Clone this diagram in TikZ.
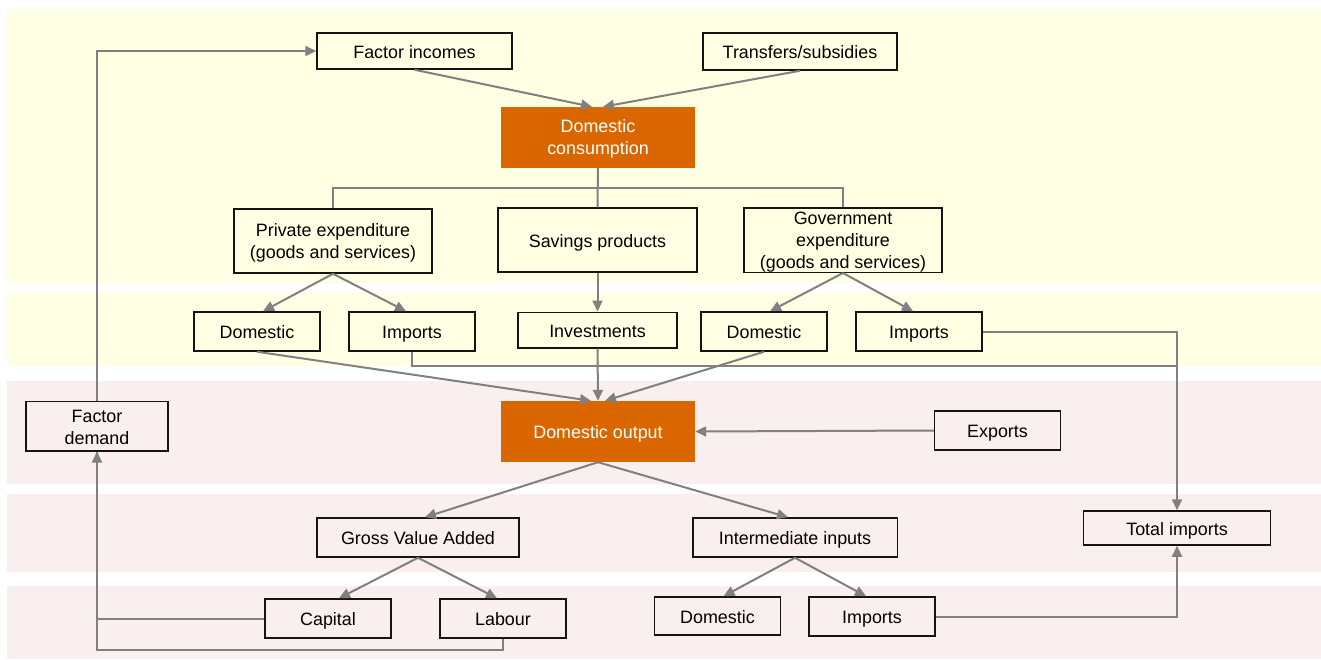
\documentclass[tikz,border=0pt]{standalone}
\usepackage{fontspec}
\setmainfont{Liberation Sans}
\usetikzlibrary{arrows.meta,calc}
\definecolor{bandY}{RGB}{255,255,228}
\definecolor{bandP}{RGB}{249,239,239}
\definecolor{orangeBox}{RGB}{218,102,0}
\definecolor{connGray}{RGB}{128,128,128}
\definecolor{boxLine}{RGB}{20,20,20}
\newcommand{\tlstrut}{\rule{0pt}{16pt}}
\newcommand{\blstrut}{\rule[-1.5pt]{0pt}{1.5pt}}
\begin{document}
\begin{tikzpicture}[x=1pt,y=-1pt,
  every node/.style={font=\fontsize{17.9}{22}\selectfont, inner sep=0pt, align=center},
  box/.style={draw=boxLine, line width=1.5pt, fill=none, text=black},
  hot/.style={fill=orangeBox, draw=none, text=white},
  one/.style={text height=16pt, text depth=1.5pt},
  conn/.style={draw=connGray, line width=2pt, -{Triangle[length=11pt,width=10pt]}},
  plain/.style={draw=connGray, line width=2pt}
]
\useasboundingbox (0,0) rectangle (1321,659);
% bands
\fill[bandY] (7,9) rectangle (1321,283);
\fill[bandY] (7,293) rectangle (1321,366);
\fill[bandP] (7,381) rectangle (1321,484);
\fill[bandP] (7,494) rectangle (1321,572);
\fill[bandP] (7,586) rectangle (1321,659);

% nodes
\node[box, one, minimum width=195, minimum height=36] (fi) at (414.5,51) {Factor incomes};
\node[box, one, minimum width=194, minimum height=37] (ts) at (800,51.5) {Transfers/subsidies};
\node[hot, minimum width=194, minimum height=61] (dc) at (598,137.5) {\tlstrut Domestic\\consumption\blstrut};
\node[box, minimum width=198, minimum height=64] (pe) at (333,241) {\tlstrut Private expenditure\\(goods and services)\blstrut};
\node[box, one, minimum width=199, minimum height=64] (sp) at (597.5,240) {Savings products};
\node[box, minimum width=198, minimum height=64.5] (ge) at (843,240) {\tlstrut Government\\expenditure\\(goods and services)\blstrut};
\node[box, one, minimum width=126, minimum height=39] (dl) at (257,331.5) {Domestic};
\node[box, one, minimum width=126, minimum height=39] (il) at (412,331.5) {Imports};
\node[box, one, minimum width=159, minimum height=35.5] (inv) at (597.5,330) {Investments};
\node[box, one, minimum width=126, minimum height=39] (dg) at (764,331.5) {Domestic};
\node[box, one, minimum width=126, minimum height=39] (ig) at (919,331.5) {Imports};
\node[box, minimum width=142, minimum height=49.5] (fd) at (97,426) {\tlstrut Factor\\demand\blstrut};
\node[hot, one, minimum width=194, minimum height=61] (dout) at (598,431.5) {Domestic output};
\node[box, one, minimum width=126, minimum height=39] (ex) at (997.5,430.5) {Exports};
\node[box, one, minimum width=202, minimum height=39] (gva) at (418,537.5) {Gross Value Added};
\node[box, one, minimum width=204.5, minimum height=39] (ii) at (795,537.5) {Intermediate inputs};
\node[box, one, minimum width=187, minimum height=34] (ti) at (1177,528) {Total imports};
\node[box, one, minimum width=126, minimum height=39] (cap) at (328,618.5) {Capital};
\node[box, one, minimum width=126, minimum height=39] (lab) at (503,618.5) {Labour};
\node[box, one, minimum width=126, minimum height=38] (db) at (717.5,616) {Domestic};
\node[box, one, minimum width=126, minimum height=39] (ib) at (872,616.5) {Imports};

% helper coordinates
\coordinate (hbar) at (598,188);
\coordinate (r1) at (1177,366);
\coordinate (r2) at (97,650);

% connectors
\draw[conn] (fi.south) -- ($(dc.north)+(-6,0)$);
\draw[conn] (ts.south) -- ($(dc.north)+(5,0)$);
\draw[plain] (dc.south) -- (sp.north);
\draw[plain] (pe.north) |- (hbar) -| (ge.north);

\draw[conn] (pe.south) -- ($(dl.north)+(6,0)$);
\draw[conn] (pe.south) -- ($(il.north)+(-6,0)$);
\draw[conn] (sp.south) -- (inv.north);
\draw[conn] (ge.south) -- ($(dg.north)+(6,0)$);
\draw[conn] (ge.south) -- ($(ig.north)+(-6,0)$);

\draw[conn] (dl.south) -- ($(dout.north)+(-7,0)$);
\draw[conn] (inv.south) -- (dout.north);
\draw[conn] (dg.south) -- ($(dout.north)+(7,0)$);

\draw[plain] (il.south) |- (r1);
\draw[conn] (ig.east) -| (ti.north);

\draw[conn] (ex.west) -- (dout.east);

\draw[conn] (dout.south) -- ($(gva.north)+(7,0)$);
\draw[conn] (dout.south) -- ($(ii.north)+(-7,0)$);

\draw[conn] (gva.south) -- ($(cap.north)+(11,0)$);
\draw[conn] (gva.south) -- ($(lab.north)+(-6,0)$);
\draw[conn] (ii.south) -- ($(db.north)+(6,0)$);
\draw[conn] (ii.south) -- ($(ib.north)+(-6,0)$);

\draw[conn] (ib.east) -| (ti.south);

\draw[plain] (lab.south) |- (r2) -- (fd.south);
\draw[conn] (cap.west) -| (fd.south);
\draw[conn] (fd.north) |- (fi.west);
\end{tikzpicture}
\end{document}
